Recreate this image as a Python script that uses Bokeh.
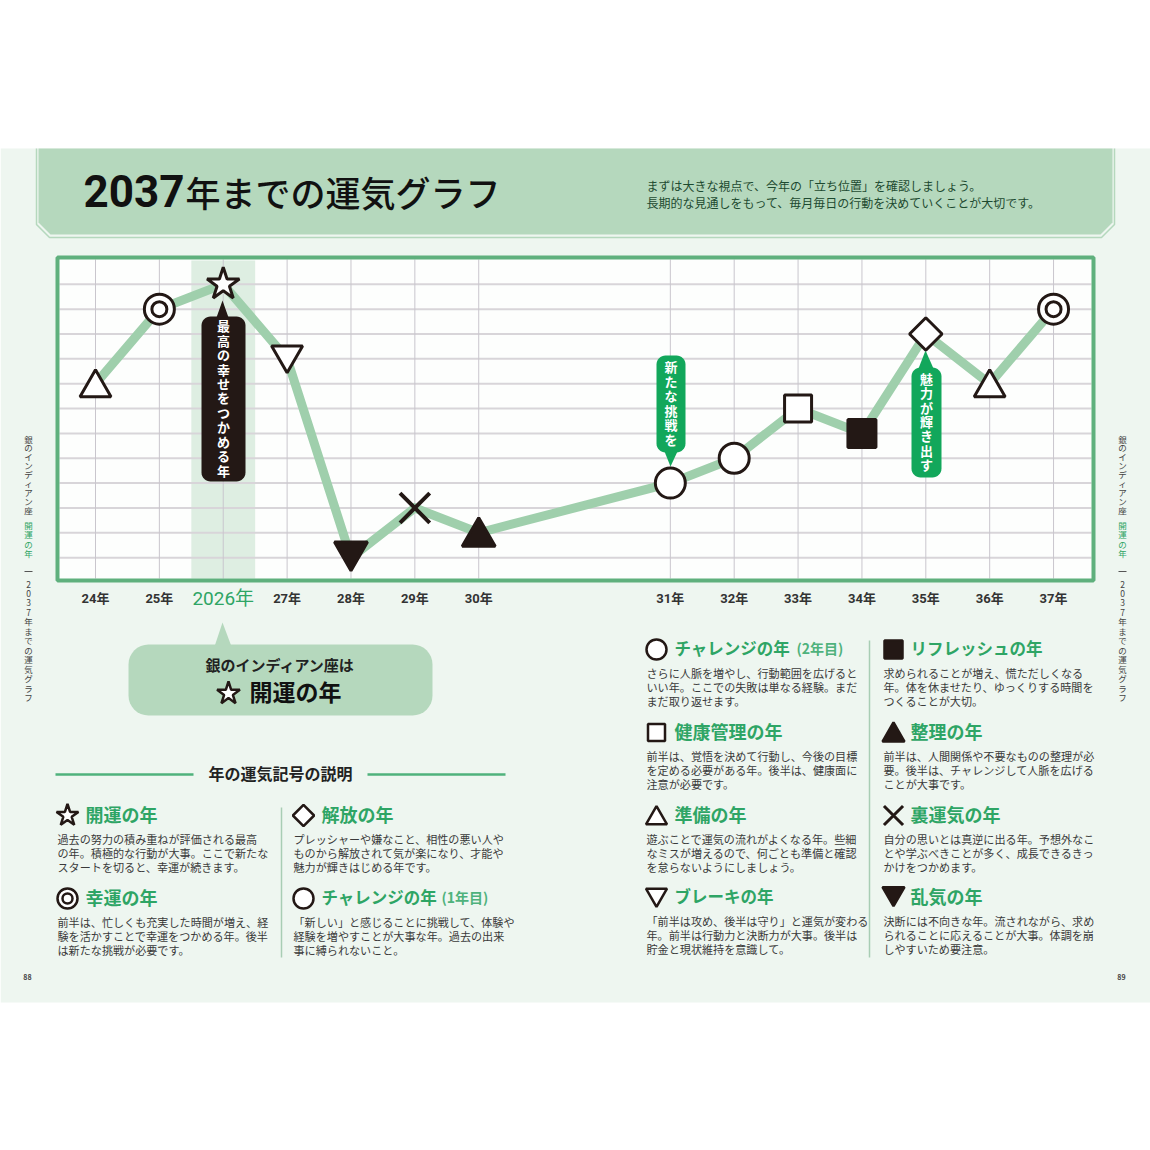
from bokeh.plotting import figure
from bokeh.models import Range1d, LinearAxis, FixedTicker
from bokeh.core.properties import value
from bokeh.embed import file_html
from bokeh.resources import INLINE
import math

# chart values
years = ["24", "25", "26", "27", "28", "29", "30", "31", "32", "33", "34", "35", "36", "37"]
slots = [0, 1, 2, 3, 4, 5, 6, 9, 10, 11, 12, 13, 14, 15]
levels = [8, 11, 12, 9, 1, 3, 2, 4, 5, 7, 6, 10, 8, 11]
symbols = ["tri", "dbl", "star", "itri", "itri_b", "x", "tri_b", "circ", "circ", "sq", "sq_b", "dia", "tri", "dbl"]
grid_levels = list(range(1, 13))

# legend texts
left_heads = ["開運の年", "幸運の年", "解放の年", "チャレンジの年"]
left_syms = ["star", "dbl", "dia", "circ"]
left_bodies = [
    "過去の努力の積み重ねが評価される最高\nの年。積極的な行動が大事。ここで新たな\nスタートを切ると、幸運が続きます。",
    "前半は、忙しくも充実した時間が増え、経\n験を活かすことで幸運をつかめる年。後半\nは新たな挑戦が必要です。",
    "プレッシャーや嫌なこと、相性の悪い人や\nものから解放されて気が楽になり、才能や\n魅力が輝きはじめる年です。",
    "「新しい」と感じることに挑戦して、体験や\n経験を増やすことが大事な年。過去の出来\n事に縛られないこと。",
]
right_heads = ["チャレンジの年", "健康管理の年", "準備の年", "ブレーキの年",
               "リフレッシュの年", "整理の年", "裏運気の年", "乱気の年"]
right_syms = ["circ", "sq", "tri", "itri", "sq_b", "tri_b", "x", "itri_b"]
right_bodies = [
    "さらに人脈を増やし、行動範囲を広げると\nいい年。ここでの失敗は単なる経験。まだ\nまだ取り返せます。",
    "前半は、覚悟を決めて行動し、今後の目標\nを定める必要がある年。後半は、健康面に\n注意が必要です。",
    "遊ぶことで運気の流れがよくなる年。些細\nなミスが増えるので、何ごとも準備と確認\nを怠らないようにしましょう。",
    "「前半は攻め、後半は守り」と運気が変わる\n年。前半は行動力と決断力が大事。後半は\n貯金と現状維持を意識して。",
    "求められることが増え、慌ただしくなる\n年。体を休ませたり、ゆっくりする時間を\nつくることが大切。",
    "前半は、人間関係や不要なものの整理が必\n要。後半は、チャレンジして人脈を広げる\nことが大事です。",
    "自分の思いとは真逆に出る年。予想外なこ\nとや学ぶべきことが多く、成長できるきっ\nかけをつかめます。",
    "決断には不向きな年。流されながら、求め\nられることに応えることが大事。体調を崩\nしやすいため要注意。",
]

JP = "Noto Sans CJK JP"
JP_MED = "Noto Sans CJK JP Medium"
NUM = "Roboto"
GREEN = "#2ea565"
BAND = "#b5d8bd"
PAGE = "#eef6f0"
DARK = "#231815"

# marker, fill, chart size, legend size, line width, vertical nudge in px at chart size
STYLE = {
    "tri": ("triangle", "white", 31, 21, 3, 4),
    "tri_b": ("triangle", DARK, 33, 22, 3, 4),
    "itri": ("inverted_triangle", "white", 31, 21, 3, -4),
    "itri_b": ("inverted_triangle", DARK, 33, 22, 3, -6),
    "circ": ("circle", "white", 30, 20, 3, 0),
    "dbl": ("circle", "white", 30, 20, 3, 0),
    "sq": ("square", "white", 27, 17, 3, 0),
    "sq_b": ("square", DARK, 28, 18, 3, 0),
    "dia": ("square", "white", 23, 15, 3, 0),
    "star": ("star", "white", 34, 23, 3, 0),
    "x": ("x", None, 42, 27, 4, 0),
}

# page pixel -> chart units
X0, XSTEP = 95, 63.87
Y0, YSTEP = 582, 24.85
PX = 1150
xr = Range1d((0 - X0) / XSTEP, (PX - X0) / XSTEP)
yr = Range1d((Y0 - PX) / YSTEP, Y0 / YSTEP)

p = figure(width=PX, height=PX, x_range=xr, y_range=yr, x_axis_type=None, y_axis_type=None,
           output_backend="svg", toolbar_location=None, min_border=0, outline_line_color=None,
           background_fill_color="white", border_fill_color="white")
p.grid.visible = False
p.extra_x_ranges["px"] = Range1d(0, PX)
p.extra_y_ranges["py"] = Range1d(PX, 0)
PAGE_XY = dict(x_range_name="px", y_range_name="py")


def txt(x, y, s, size, color=DARK, bold=False, align="left", base="middle", font=JP, lh=1.2):
    # CJK metrics sit a little low on a middle baseline
    if base == "middle":
        y -= size * 0.08
    p.text([x], [y], text=[s], text_font=value(font), text_font_size=f"{size}px", text_color=color,
           text_font_style="bold" if bold else "normal", text_align=align, text_baseline=base,
           text_line_height=lh, **PAGE_XY)


def rrect(x0, y0, x1, y1, r):
    xs, ys = [], []
    for cx, cy, a0 in [(x1 - r, y0 + r, -90), (x1 - r, y1 - r, 0), (x0 + r, y1 - r, 90), (x0 + r, y0 + r, 180)]:
        for k in range(9):
            a = math.radians(a0 + k * 90 / 8)
            xs.append(cx + r * math.cos(a))
            ys.append(cy + r * math.sin(a))
    return xs, ys


def icon(x, y, sym, size, lw, **kw):
    m, fill, *_ = STYLE[sym]
    ang = math.pi / 4 if sym == "dia" else 0
    p.scatter(x, y, marker=m, size=size, fill_color=fill, line_color=DARK, line_width=lw, angle=ang, **kw)
    if sym == "dbl":
        p.scatter(x, y, marker="circle", size=size * 0.5, fill_color="white", line_color=DARK, line_width=lw, **kw)


# page background and header band
p.quad(left=[0], right=[PX], top=[148], bottom=[1002], fill_color=PAGE, line_color=None, **PAGE_XY)
p.patch([38, 1112, 1112, 1100, 50, 38], [148, 148, 222, 234, 234, 222], fill_color=BAND, line_color=None, **PAGE_XY)
p.line([36, 36, 49, 1101, 1114, 1114], [148, 224, 237, 237, 224, 148], line_color=BAND, line_width=1.5, **PAGE_XY)
txt(83, 194, "2037", 44, color="#111", bold=True, font=NUM)
txt(185, 194, "年までの運気グラフ", 35, color="#111", font=JP_MED)
txt(646, 186, "まずは大きな視点で、今年の「立ち位置」を確認しましょう。", 12, color="#1d4a30")
txt(646, 203, "長期的な見通しをもって、毎月毎日の行動を決めていくことが大切です。", 12, color="#1d4a30")

# frame, 2026 band, grid
p.quad(left=[57], right=[1093], top=[257], bottom=[580], fill_color="#fdfefd", line_color=None, **PAGE_XY)
i26 = years.index("26")
p.quad(left=[slots[i26] - 0.5], right=[slots[i26] + 0.5], top=[260], bottom=[578], fill_color="#deeee2",
       line_color=None, y_range_name="py")
p.segment(x0=[59] * len(grid_levels), x1=[1091] * len(grid_levels), y0=grid_levels, y1=grid_levels,
          line_color="#d8d5d9", line_width=2, x_range_name="px")
p.segment(x0=slots, x1=slots, y0=[259] * len(slots), y1=[578] * len(slots),
          line_color="#c9c6cd", line_width=1, y_range_name="py")
p.quad(left=[57], right=[1093], top=[257], bottom=[580], fill_color=None, line_color="#5fb07d", line_width=4, **PAGE_XY)

# fortune line
p.line(slots, levels, line_color="#9fcfac", line_width=9, line_join="miter")

# callouts
for box, tip, fill, s in [
    ((201, 316, 245, 481), [(216, 317), (228, 317), (222, 300)], DARK, "最\n高\nの\n幸\nせ\nを\nつ\nか\nめ\nる\n年"),
    ((656, 355, 685, 452), [(664, 451), (677, 451), (670, 466)], "#12a75b", "新\nた\nな\n挑\n戦\nを"),
    ((911, 367, 941, 477), [(918, 368), (933, 368), (925, 350)], "#12a75b", "魅\n力\nが\n輝\nき\n出\nす"),
]:
    xs, ys = rrect(*box, 9)
    p.patch(xs, ys, fill_color=fill, line_color=None, **PAGE_XY)
    p.patch([t[0] for t in tip], [t[1] for t in tip], fill_color=fill, line_color=None, **PAGE_XY)
    txt((box[0] + box[2]) / 2, (box[1] + box[3]) / 2, s, 13, color="white", bold=True, align="center", lh=0.76)

# chart symbols
for s, l, sym in zip(slots, levels, symbols):
    icon([s], [l - STYLE[sym][5] / YSTEP], sym, STYLE[sym][2], STYLE[sym][4])

# year labels, real axes pinned under the frame
ax = LinearAxis(ticker=FixedTicker(ticks=[s for s, y in zip(slots, years) if y != "26"]),
                major_label_overrides={s: y + "年" for s, y in zip(slots, years) if y != "26"},
                fixed_location=(Y0 - 584) / YSTEP, axis_line_color=None, major_tick_line_color=None,
                minor_tick_line_color=None, major_label_standoff=0,
                major_label_text_font=f"{NUM}, {JP}", major_label_text_font_size="13px",
                major_label_text_font_style="bold", major_label_text_color="#333")
p.add_layout(ax, "below")
ax26 = LinearAxis(ticker=FixedTicker(ticks=[slots[i26]]), major_label_overrides={slots[i26]: "2026年"},
                  fixed_location=(Y0 - 580) / YSTEP, axis_line_color=None, major_tick_line_color=None,
                  minor_tick_line_color=None, major_label_standoff=0,
                  major_label_text_font=f"{NUM}, {JP}", major_label_text_font_size="19px",
                  major_label_text_color=GREEN)
p.add_layout(ax26, "below")

# current-year callout
xs, ys = rrect(128, 644, 432, 715, 20)
p.patch(xs, ys, fill_color=BAND, line_color=None, **PAGE_XY)
p.patch([214, 231, 222], [646, 646, 622], fill_color=BAND, line_color=None, **PAGE_XY)
txt(280, 665, "銀のインディアン座は", 15, color="#222", bold=True, align="center")
icon([228], [693], "star", 24, 2.5, **PAGE_XY)
txt(249, 692, "開運の年", 23, color="#111", bold=True)

# side labels
for x, num in [(28, "88"), (1122, "89")]:
    txt(x, 432, "銀\nの\nイ\nン\nデ\nィ\nア\nン\n座", 8.5, color="#444", align="center", base="top", lh=0.745)
    txt(x, 518, "開\n運\nの\n年", 8.5, color=GREEN, align="center", base="top", lh=0.8)
    p.segment(x0=[x - 4], x1=[x + 4], y0=[571], y1=[571], line_color="#555", line_width=1, **PAGE_XY)
    txt(x, 577, "2\n0\n3\n7\n年\nま\nで\nの\n運\n気\nグ\nラ\nフ", 8.5, color="#444", align="center", base="top", lh=0.79)
    txt(x - 1, 977, num, 7, color="#444", align="center", bold=True)

# legend
p.segment(x0=[55, 367], x1=[193, 505], y0=[774, 774], y1=[774, 774], line_color="#4fb27c", line_width=2.5, **PAGE_XY)
txt(280, 774, "年の運気記号の説明", 16, color="#222", bold=True, align="center")
p.segment(x0=[281, 869], x1=[281, 869], y0=[807, 640], y1=[957, 957], line_color="#a8cdb4", line_width=1.5, **PAGE_XY)


def entry(xb, xi, xh, yh, head, sym, body):
    st = STYLE[sym]
    icon([xi], [yh + st[5] * st[3] / st[2]], sym, st[3], 2.5 if sym != "x" else 3, **PAGE_XY)
    # katakana headings are set tighter than kanji ones
    txt(xh, yh, head, 16.5 if head[0] in "チリブ" else 18, color=GREEN, bold=True)
    txt(xb, yh + 15, body, 11.1, color="#3a3a3a", base="top", lh=0.9)


lcols = [(57, 67, 85), (57, 67, 85), (293, 303, 321), (293, 303, 321)]
lys = [815, 898, 815, 898]
for c, yh, h, sym, b in zip(lcols, lys, left_heads, left_syms, left_bodies):
    entry(*c, yh, h, sym, b)
txt(441, 898, "(1年目)", 14, color="#4fb27c", bold=True)

rcols = [(646, 656, 674)] * 4 + [(883, 893, 910)] * 4
rys = [649, 732, 815, 897] * 2
for c, yh, h, sym, b in zip(rcols, rys, right_heads, right_syms, right_bodies):
    entry(*c, yh, h, sym, b)
txt(796, 649, "(2年目)", 14, color="#4fb27c", bold=True)

open("out.html", "w").write(file_html(p, INLINE))
